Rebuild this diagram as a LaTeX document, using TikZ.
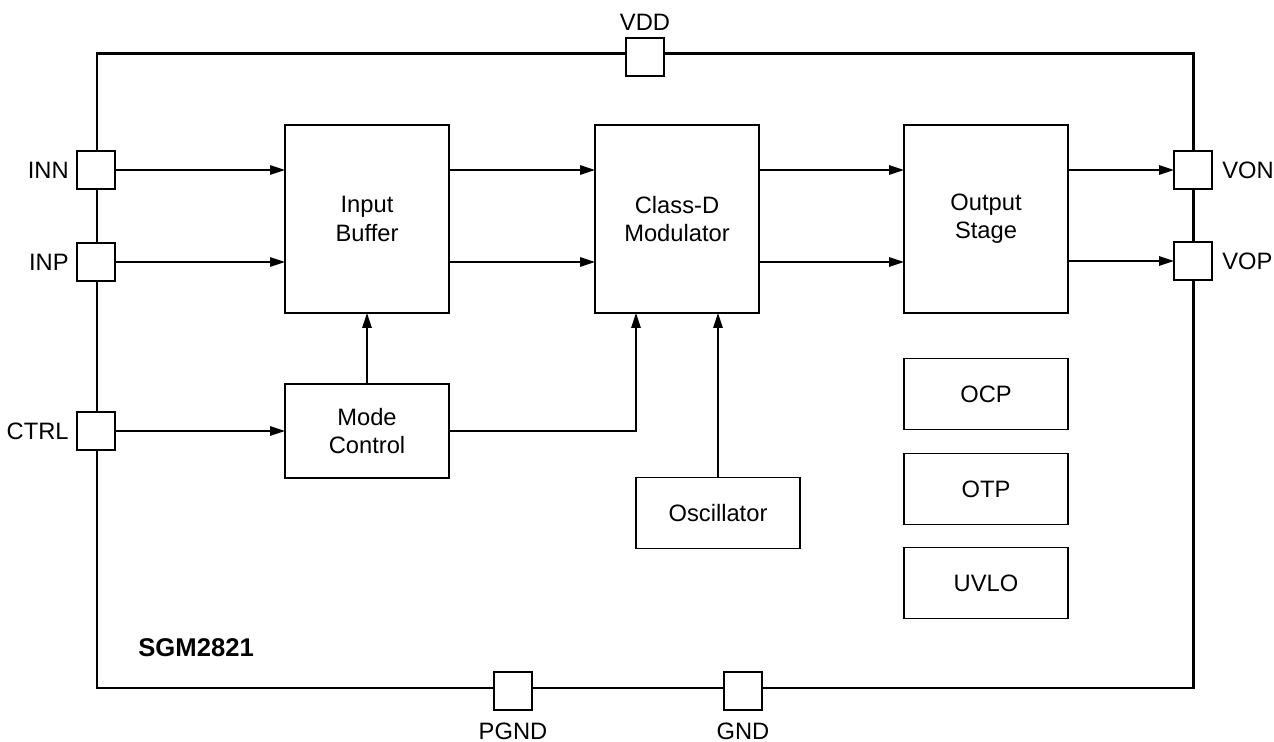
\documentclass[tikz,border=0pt]{standalone}
\usepackage{fontspec}
\setmainfont{Liberation Sans}
\usetikzlibrary{arrows.meta}
\begin{document}
\begin{tikzpicture}
  [x=0.02cm,y=-0.02cm,
   block/.style={rectangle,draw=black,line width=0.9pt,align=center,
                 outer sep=0,minimum width=3.28cm,minimum height=1.42cm},
   pin/.style={rectangle,draw=black,fill=white,line width=0.9pt,
               outer sep=0,minimum size=0.76cm,inner sep=0},
   pinlabel/.style={inner sep=0},
   sig/.style={line width=0.8pt,-{Triangle[length=0.3cm,width=0.19cm]}},
   wire/.style={line width=0.8pt}]
  \fontsize{13.5}{16}\selectfont
  \useasboundingbox (0,0) rectangle (1274,742);
  % chip outline
  \draw[line width=1.7pt] (97,54) rectangle (1193,688);
  % blocks
  \node[block,minimum height=3.76cm] (ibuf) at (367,219) {Input\\Buffer};
  \node[block,minimum height=3.76cm] (cdm) at (677,219) {Class-D\\Modulator};
  \node[block,minimum height=3.76cm] (ostage) at (986,219) {Output\\Stage};
  \node[block,minimum height=1.88cm] (mode) at (367,431) {Mode\\Control};
  \node[block] (osc) at (718,513) {Oscillator};
  \node[block] (ocp) at (986,394) {OCP};
  \node[block] (otp) at (986,489) {OTP};
  \node[block] (uvlo) at (986,583) {UVLO};
  % pins
  \node[pin] (inn) at (96,170) {};
  \node[pin] (inp) at (96,262) {};
  \node[pin] (ctrl) at (96,431) {};
  \node[pin] (von) at (1193,170) {};
  \node[pin] (vop) at (1193,261) {};
  \node[pin] (vdd) at (645,57) {};
  \node[pin] (pgnd) at (513,691) {};
  \node[pin] (gnd) at (743,691) {};
  \node[pinlabel,anchor=east] at (69,170) {INN};
  \node[pinlabel,anchor=east] at (69,262) {INP};
  \node[pinlabel,anchor=east] at (69,431) {CTRL};
  \node[pinlabel,anchor=west] at (1222,170) {VON};
  \node[pinlabel,anchor=west] at (1222,261) {VOP};
  \node[pinlabel] at (645,22) {VDD};
  \node[pinlabel] at (513,731) {PGND};
  \node[pinlabel] at (743,731) {GND};
  \node[pinlabel,anchor=west,font=\fontsize{14.6}{17}\selectfont\bfseries]
    (part) at (138,648) {SGM2821};
  % signals
  \coordinate (cdmin) at (636,313);
  \draw[sig] (inn) -- (inn -| ibuf.west);
  \draw[sig] (inp) -- (inp -| ibuf.west);
  \draw[sig] (ctrl) -- (mode.west);
  \draw[sig] (inn -| ibuf.east) -- (inn -| cdm.west);
  \draw[sig] (inp -| ibuf.east) -- (inp -| cdm.west);
  \draw[sig] (inn -| cdm.east) -- (inn -| ostage.west);
  \draw[sig] (inp -| cdm.east) -- (inp -| ostage.west);
  \draw[sig] (von -| ostage.east) -- (von.west);
  \draw[sig] (vop -| ostage.east) -- (vop.west);
  \draw[sig] (mode.north) -- (ibuf.south);
  \draw[sig] (mode.east) -| (cdmin);
  \draw[sig] (osc.north) -- (osc.north |- cdm.south);
\end{tikzpicture}
\end{document}
